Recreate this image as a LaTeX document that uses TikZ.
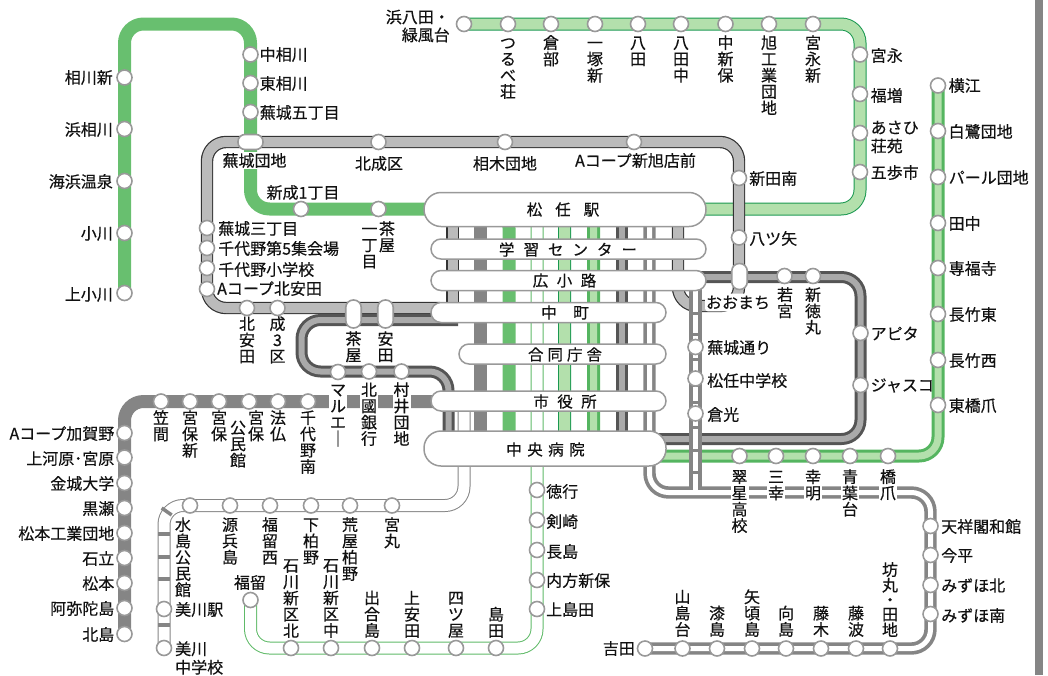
\documentclass[tikz,border=0pt]{standalone}
\usepackage{fontspec}
\setmainfont[FakeBold=0.4]{Noto Sans CJK JP}
\definecolor{gthick}{HTML}{68BF6F}
\definecolor{gdark}{HTML}{1A9850}
\definecolor{glight}{HTML}{B3E0AC}
\definecolor{gmid}{HTML}{55B560}
\definecolor{gthin}{HTML}{5FBA68}
\definecolor{dk}{HTML}{555555}
\definecolor{mdk}{HTML}{AAAAAA}
\definecolor{gy}{HTML}{858585}
\definecolor{lgy}{HTML}{BBBBBB}
\definecolor{ring}{HTML}{999999}
\definecolor{ink}{HTML}{111111}
\pgfdeclarelayer{lines}
\pgfsetlayers{lines,main}
\newcommand{\topfix}{\rule{0pt}{13.5pt}}
\tikzset{
  stn/.style={circle,draw=ring,fill=white,line width=1.6pt,minimum size=15pt,inner sep=0pt},
  pillbox/.style={rectangle,draw=ring,fill=white,line width=1.5pt,inner sep=0pt,text=ink},
  lab/.style={inner sep=0pt,text=ink,font=\fontsize{16}{16.3}\selectfont,align=center},
  pilltext/.style={lab,font=\fontsize{15.5}{16}\selectfont},
  labl/.style={lab,anchor=west,align=left},
  labr/.style={lab,anchor=east,align=right},
  labt/.style={lab,anchor=north},
  labb/.style={lab,anchor=south},
  halo/.style={fill=white,inner sep=1pt},
  rt/.style={rounded corners=19pt,line join=round},
  rtthick/.style={rt,draw=gthick,line width=13pt},
  rtsolid/.style={rt,draw=gy,line width=13pt},
  rthama/.style={rt,draw=gdark,double=glight,line width=1pt,double distance=11pt},
  rtyoko/.style={rt,draw=gmid,double=glight,line width=3pt,double distance=7pt},
  rtdark/.style={rt,draw=dk,double=mdk,line width=3pt,double distance=6pt},
  rtloop/.style={rt,draw=black!80,double=lgy,line width=1.2pt,double distance=10pt},
  rtwhite/.style={rt,draw=gy,double=white,line width=3.7pt,double distance=5pt},
  rtmizu/.style={rt,draw=gy,double=white,line width=1pt,double distance=11pt},
  rtthin/.style={rt,draw=gthin,double=white,line width=1pt,double distance=11pt},
  tie/.style={draw=gy,line width=3.5pt},
}
\begin{document}
\begin{tikzpicture}[x=1pt,y=-1pt]
\useasboundingbox (0,0) rectangle (1048,675);
\fill[gy] (1035,0) rectangle (1043,675);

% big station pills
\node[pillbox,rounded corners=17pt,minimum width=282pt,minimum height=34pt] (pMatsu) at (565,209.5) {};
\node[pillbox,rounded corners=10pt,minimum width=275pt,minimum height=20pt] (pGaku) at (568.5,249) {};
\node[pillbox,rounded corners=10pt,minimum width=275pt,minimum height=20pt] (pHiro) at (568.5,280.5) {};
\node[pillbox,rounded corners=10pt,minimum width=235pt,minimum height=20pt] (pNaka) at (548.5,312.5) {};
\node[pillbox,rounded corners=10pt,minimum width=207pt,minimum height=20pt] (pGodo) at (562.5,354) {};
\node[pillbox,rounded corners=10pt,minimum width=235pt,minimum height=20pt] (pShi) at (548.5,401) {};
\node[pillbox,rounded corners=17pt,minimum width=242pt,minimum height=35pt] (pChuo) at (545,448.5) {};
\node[pilltext] (tMatsu) at (563,209.5) {松\hspace{13pt}任\hspace{13pt}駅};
\node[pilltext] (tGaku) at (568,249.5) {学\hspace{9pt}習\hspace{9pt}セ\hspace{9pt}ン\hspace{9pt}タ\hspace{9pt}ー};
\node[pilltext] (tHiro) at (564.5,280.5) {広\hspace{8.5pt}小\hspace{8.5pt}路};
\node[pilltext] (tNaka) at (565,312.5) {中\hspace{16.5pt}町};
\node[pilltext] (tGodo) at (565,354.5) {合\hspace{4pt}同\hspace{4pt}庁\hspace{4pt}舎};
\node[pilltext] (tShi) at (565,401.5) {市\hspace{8.5pt}役\hspace{8.5pt}所};
\node[pilltext] (tChuo) at (545.5,449.5) {中\hspace{5.5pt}央\hspace{5.5pt}病\hspace{5.5pt}院};

% elongated stations
\node[stn,rectangle,rounded corners=7pt,minimum width=25pt,minimum height=15pt] (sBujo) at (250.5,142) {};
\node[stn,rectangle,rounded corners=7.5pt,minimum width=15.5pt,minimum height=26pt] (sOomachi) at (739.5,276.5) {};
\node[stn,rectangle,rounded corners=7.5pt,minimum width=15.5pt,minimum height=28pt] (sCha) at (353.5,314) {};
\node[stn,rectangle,rounded corners=7.5pt,minimum width=15.5pt,minimum height=28pt] (sYasu) at (385.5,314) {};

% round stations
\foreach \n/\x/\y in {
 a1/124.5/77.5,a2/124.5/129,a3/124.5/181,a4/124.5/233,a5/124.5/293,
 a6/250.5/54.5,a7/250.5/83,a8/250.5/112,a9/301/209,a10/378.5/209,
 b1/207/228,b2/207/248,b3/207/268,b4/207/289,b5/247/308,b6/277.5/308,
 b7/378.5/142,b8/505/142,b9/634/142,b10/739/178,b11/739/237.5,
 c1/784.5/276,c2/813/276,c3/860.5/333,c4/860.5/385,
 d1/464/24,d2/508/24,d3/551/24,d4/595/24,d5/638/24,d6/681/24,d7/725.5/24,d8/769/24,d9/813/24,
 d10/860/54.5,d11/860/94,d12/860/133,d13/860/172,
 e1/938/85.5,e2/938/131,e3/938/177,e4/938/223,e5/938/268,e6/938/314,e7/938/360,e8/938/405,
 e9/739.5/456,e10/776/456,e11/813/456,e12/850/456,e13/888/456,
 f1/930.5/526,f2/930.5/555,f3/930.5/585,f4/930.5/614,
 f5/645/648.5,f6/682.5/648.5,f7/717/648.5,f8/752/648.5,f9/786/648.5,f10/821/648.5,f11/856/648.5,f12/890/648.5,
 g1/695.5/347,g2/695.5/378.5,g3/695.5/413.5,
 h1/338/372,h2/369/371.5,h3/401.5/371.5,
 i1/161/401.5,i2/190/401.5,i3/219/401.5,i4/249/401.5,i5/278/401.5,i6/308/401.5,
 i7/124.5/433,i8/124.5/457.5,i9/124.5/483,i10/124.5/508,i11/124.5/533,i12/124.5/558,i13/124.5/583,i14/124.5/608,i15/124.5/634,
 j1/190/505.5,j2/230/505.5,j3/270/505.5,j4/311/505.5,j5/350/505.5,j6/392/505.5,j7/164/609,j8/164/648,
 k1/250.5/600,k2/291/648,k3/331/648,k4/372/648,k5/412/648,k6/456/648,k7/496/648,
 k8/537/490,k9/537/520,k10/537/550,k11/537/580,k12/537/609%
}{\node[stn] (\n) at (\x,\y) {};}

% labels, left of the line
\foreach \n/\x/\y/\t in {
 L1/113/77.5/相川新,L2/113/129.5/浜相川,L3/113/181.5/海浜温泉,L4/113/233.5/小川,L5/113/294.5/上小川,
 L6/114.5/433.5/Aコープ加賀野,L7/114.5/458.5/上河原･宮原,L8/114.5/483.5/金城大学,L9/114.5/508.5/黒瀬,L10/114.5/533.5/松本工業団地,L11/114.5/558.5/石立,L12/114.5/583.5/松本,L13/114.5/608.5/阿弥陀島,L14/114.5/634.5/北島,
 L15/635/648.5/吉田%
}{\node[labr] (\n) at (\x,\y) {\t};}

% labels, right of the line
\foreach \n/\x/\y/\t in {
 R1/259.5/54.5/中相川,R2/259.5/83.5/東相川,R3/259.5/112.5/蕪城五丁目,
 R4/218/228.5/蕪城三丁目,R5/218/248.5/千代野第5集会場,R6/218/269.5/千代野小学校,R7/217/288.5/Aコープ北安田,
 R8/749/178.5/新田南,R9/749/238.5/八ツ矢,
 R10/870.5/55.5/宮永,R11/870.5/95.5/福増,R12/870.5/172.5/五歩市,
 R13/870.5/333.5/アピタ,R14/870.5/385.5/ジャスコ,
 R15/948.5/85.5/横江,R16/948.5/131.5/白鷺団地,R17/948.5/177.5/パール団地,R18/948.5/223.5/田中,R19/948.5/268.5/専福寺,R20/948.5/314.5/長竹東,R21/948.5/360.5/長竹西,R22/948.5/405.5/東橋爪,
 R23/941/526.5/天祥閣和館,R24/941/555.5/今平,R25/941/585.5/みずほ北,R26/941/615.5/みずほ南,
 R27/707/347.5/蕪城通り,R28/707/380.5/松任中学校,R29/707/414.5/倉光,
 R30/175/609.5/美川駅,
 R31/546/491.5/徳行,R32/546/521.5/剣崎,R33/546/551.5/長島,R34/546/580.5/内方新保,R35/546/609.5/上島田%
}{\node[labl] (\n) at (\x,\y) {\t};}

\node[labl,font=\fontsize{16}{18.5}\selectfont] (R36) at (870.5,137) {あさひ\\荘苑};
\node[labl,font=\fontsize{16}{18.5}\selectfont] (R37) at (175,658) {美川\\中学校};
\node[labr,font=\fontsize{16}{18}\selectfont] (R38) at (450,26) {浜八田・\\緑風台};

% free horizontal labels
\node[lab,halo] (C1) at (254.5,160.5) {蕪城団地};
\node[lab] (C2) at (303,192.5) {新成1丁目};
\node[lab] (C3) at (379,163.5) {北成区};
\node[lab] (C4) at (505,163.5) {相木団地};
\node[lab] (C5) at (635.5,160.5) {Aコープ新旭店前};
\node[lab] (C6) at (250,582.5) {福留};
\node[lab,fill=white,rounded corners=3pt,inner xsep=1pt,inner ysep=2pt] (C7) at (738,302.5) {おおまち};

% vertical labels hanging from a top edge
\foreach \n/\x/\y/\t in {
 T1/508/35/つ\\る\\べ\\荘,T2/551/35/倉\\部,T3/595/35/一\\塚\\新,T4/638/35/八\\田,T5/681/35/八\\田\\中,T6/725.5/35/中\\新\\保,T7/769/35/旭\\工\\業\\団\\地,T8/813/35/宮\\永\\新,
 T9/369.5/221/一\\丁\\目,T10/387/221/茶\\屋,
 T11/247/316/北\\安\\田,T12/277.5/316/成\\3\\区,
 T13/353.5/331/茶\\屋,T14/385.5/331/安\\田,
 T15/785/287/若\\宮,T16/813/287/新\\徳\\丸,
 T17/161/410/笠\\間,T18/190/410/宮\\保\\新,T19/219/410/宮\\保,T20/238/420/公\\民\\館,T21/256/410/宮\\保,T22/278/410/法\\仏,T23/308/410/千\\代\\野\\南,
 T24/183/517/水\\島\\公\\民\\館,T25/230/517/源\\兵\\島,T26/270/517/福\\留\\西,T27/311/517/下\\柏\\野,T28/350/517/荒\\屋\\柏\\野,T29/392/517/宮\\丸%
}{\node[labt] (\n) at (\x,\y) {\topfix\t};}

% vertical labels with a white backing across a line
\foreach \n/\x/\y/\t in {
 H1/338/381/マ\\ル\\エ\\｜,H2/369/381/北\\國\\銀\\行,H3/401.5/381/村\\井\\団\\地,
 H4/739.5/468/翠\\星\\高\\校,H5/776/468/三\\幸,H6/813/468/幸\\明,H7/850/468/青\\葉\\台,H8/888/468/橋\\爪%
}{\node[labt,halo] (\n) at (\x,\y) {\topfix\t};}

% vertical labels standing on a bottom edge
\foreach \n/\x/\y/\t in {
 B1/291/638/石\\川\\新\\区\\北,B2/331/638/石\\川\\新\\区\\中,B3/372/638/出\\合\\島,B4/412/638/上\\安\\田,B5/456/638/四\\ツ\\屋,B6/496/638/島\\田,
 B7/682.5/637/山\\島\\台,B8/717/637/漆\\島,B9/752/637/矢\\頃\\島,B10/786/637/向\\島,B11/821/637/藤\\木,B12/856/637/藤\\波%
}{\node[labb] (\n) at (\x,\y) {\t};}
\node[labb,font=\fontsize{16}{14.5}\selectfont] (B13) at (890,637) {坊\\丸\\・\\田\\地};

% named bends and ends
\coordinate (gTop1) at (124.5,24);
\coordinate (gTop2) at (250.5,24);
\coordinate (gBot) at (250.5,209);
\coordinate (gEnd) at (509,209);
\coordinate (gEnd2) at (509,449);
\coordinate (sBend) at (124.5,401.5);
\coordinate (sEnd) at (440,401.5);
\coordinate (sV1) at (480.5,209);
\coordinate (sV2) at (480.5,449);
\coordinate (hC1) at (860,24);
\coordinate (hC2) at (860,209);
\coordinate (hC3) at (564.5,209);
\coordinate (hC4) at (564.5,449);
\coordinate (yC1) at (593.5,209);
\coordinate (yC2) at (593.5,456);
\coordinate (yC3) at (938,456);
\coordinate (lA) at (452.5,209);
\coordinate (lB) at (452.5,308);
\coordinate (lB2) at (440,308);
\coordinate (lC) at (207,308);
\coordinate (lD) at (207,142);
\coordinate (lE) at (739,142);
\coordinate (lF) at (739,306);
\coordinate (lG) at (678,306);
\coordinate (lH) at (678,209);
\coordinate (dA) at (621.5,209);
\coordinate (dB) at (621.5,449);
\coordinate (dB2) at (650,439);
\coordinate (dC) at (860.5,439);
\coordinate (dD) at (860.5,277);
\coordinate (dE) at (690,277);
\coordinate (qA) at (458,320);
\coordinate (qB) at (301.5,320);
\coordinate (qC) at (301.5,371.5);
\coordinate (qD) at (448.5,371.5);
\coordinate (qE) at (448.5,449);
\coordinate (tA) at (537,209);
\coordinate (tB) at (537,648);
\coordinate (tC) at (250.5,648);
\coordinate (mA) at (464,401);
\coordinate (mB) at (464,505.5);
\coordinate (mC) at (164,505.5);
\coordinate (wA) at (649.5,209);
\coordinate (wB) at (649.5,492.5);
\coordinate (wC) at (930.5,492.5);
\coordinate (wD) at (930.5,648.5);
\coordinate (vA) at (695.5,285);
\coordinate (vB) at (695.5,490);

\begin{pgfonlayer}{lines}
  \draw[rtthick] (a5.center) -- (gTop1) -- (gTop2) -- (gBot) -- (gEnd) -- (gEnd2);
  \draw[rtsolid] (i15.center) -- (sBend) -- (sEnd);
  \draw[rtsolid] (sV1) -- (sV2);
  \draw[rthama] (d1.center) -- (hC1) -- (hC2) -- (hC3) -- (hC4);
  \draw[rtyoko] (yC1) -- (yC2) -- (yC3) -- (e1.center);
  \draw[rtloop,rounded corners=0pt] (lA) -- (lB);
  \draw[rtloop] (lB2) -- (lC) -- (lD) -- (lE) -- (lF) -- (lG) -- (lH);
  \draw[rtdark,rounded corners=0pt] (dA) -- (dB);
  \draw[rtdark] (dB2) -- (dC) -- (dD) -- (dE);
  \draw[rtdark] (qA) -- (qB) -- (qC) -- (qD) -- (qE);
  \draw[rtthin] (tA) -- (tB) -- (tC) -- (k1.center);
  \draw[rtmizu] (mA) -- (mB) -- (mC) -- (j8.center);
  \foreach \y in {534,557,579,625} \draw[tie] (158,\y) -- (170,\y);
  \draw[tie] (161.7,508) -- (171.7,515);
  \draw[rtwhite] (wA) -- (wB) -- (wC) -- (wD) -- (f5.center);
  \draw[rtwhite,rounded corners=0pt] (vA) -- (vB);
  \foreach \y in {313,334,359,385,402,427,450,472} \draw[draw=gy,line width=3pt] (691,\y) -- (700,\y);
\end{pgfonlayer}
\end{tikzpicture}
\end{document}
